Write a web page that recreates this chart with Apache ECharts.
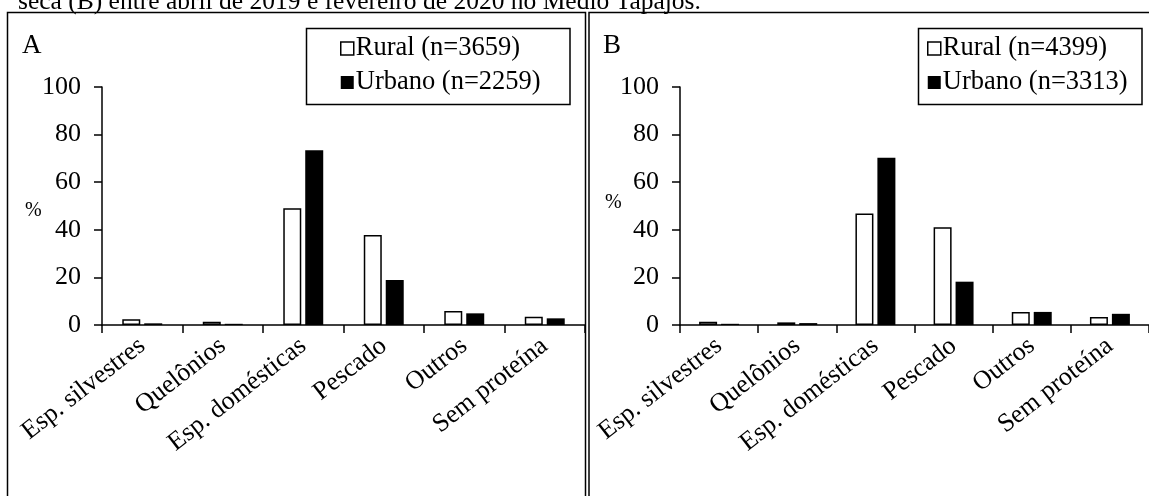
<!DOCTYPE html>
<html>
<head>
<meta charset="utf-8">
<script src="https://cdn.jsdelivr.net/npm/echarts@6/dist/echarts.min.js"></script>
<style>
html, body { margin: 0; padding: 0; background: #fff; }
#chart { width: 1149px; height: 496px; }
</style>
</head>
<body>
<div id="chart"></div>
<script>
const categories = ['Esp. silvestres', 'Quelônios', 'Esp. domésticas', 'Pescado', 'Outros', 'Sem proteína'];
const yTicks = [0, 20, 40, 60, 80, 100];
const ruralA = [2.4, 1.4, 49.1, 37.8, 5.9, 3.5];
const urbanoA = [0.7, 0.5, 73.4, 18.9, 4.9, 2.8];
const ruralB = [1.4, 1.1, 46.9, 41.1, 5.5, 3.4];
const urbanoB = [0.5, 0.8, 70.3, 18.2, 5.5, 4.7];
const legendA = ['Rural (n=3659)', 'Urbano (n=2259)'];
const legendB = ['Rural (n=4399)', 'Urbano (n=3313)'];
const panelNames = ['A', 'B'];
const caption = 'seca (B) entre abril de 2019 e fevereiro de 2020 no Médio Tapajós.';

const FONT = 'Liberation Serif';
const ruralStyle = { color: '#fff', borderColor: '#000', borderWidth: 1.5 };
const urbanoStyle = { color: '#000' };

var myChart = echarts.init(document.getElementById('chart'));

function xAxisFor(idx) {
    return {
        type: 'category',
        gridIndex: idx,
        data: categories,
        axisLine: { lineStyle: { color: '#000', width: 1.5 } },
        axisTick: { show: true, length: 8, alignWithLabel: false, lineStyle: { color: '#000', width: 1.5 } },
        axisLabel: { interval: 0, rotate: 38, margin: 18, color: '#000', fontFamily: FONT, fontSize: 26 }
    };
}

function yAxisFor(idx) {
    return {
        type: 'value',
        gridIndex: idx,
        min: yTicks[0],
        max: yTicks[yTicks.length - 1],
        interval: yTicks[1] - yTicks[0],
        axisLine: { show: true, lineStyle: { color: '#000', width: 1.5 } },
        axisTick: { show: true, length: 8, lineStyle: { color: '#000', width: 1.5 } },
        splitLine: { show: false },
        axisLabel: { margin: 21, color: '#000', fontFamily: FONT, fontSize: 26 }
    };
}

function barSeries(name, data, idx, style) {
    return {
        name: name,
        type: 'bar',
        xAxisIndex: idx,
        yAxisIndex: idx,
        data: data,
        barWidth: 18,
        barGap: '22%',
        itemStyle: style,
        silent: true
    };
}

function legendFor(names, left) {
    return {
        orient: 'vertical',
        left: left,
        top: 35,
        padding: 0,
        itemWidth: 13,
        itemHeight: 13,
        itemGap: 7,
        selectedMode: false,
        icon: 'rect',
        textStyle: { color: '#000', fontFamily: FONT, fontSize: 26.5, lineHeight: 26, padding: [0, 0, 0, -3] },
        data: [
            { name: names[0], itemStyle: ruralStyle },
            { name: names[1], itemStyle: urbanoStyle }
        ]
    };
}

let option = {
    animation: false,
    backgroundColor: '#fff',
    grid: [
        { left: 102, top: 87, width: 483, height: 238 },
        { left: 680, top: 87, width: 480, height: 238 }
    ],
    xAxis: [xAxisFor(0), xAxisFor(1)],
    yAxis: [yAxisFor(0), yAxisFor(1)],
    legend: [legendFor(legendA, 340), legendFor(legendB, 927)],
    series: [
        barSeries(legendA[0], ruralA, 0, ruralStyle),
        barSeries(legendA[1], urbanoA, 0, urbanoStyle),
        barSeries(legendB[0], ruralB, 1, ruralStyle),
        barSeries(legendB[1], urbanoB, 1, urbanoStyle)
    ],
    graphic: [
        // caption line cut off at the top of the picture
        { type: 'text', left: 18, top: -11, silent: true,
          style: { text: caption, fill: '#000', font: '25.5px "Liberation Serif"' } },
        // panel frames
        { type: 'polyline', silent: true,
          shape: { points: [[7.5, 496], [7.5, 12.5], [585.5, 12.5], [585.5, 496]] },
          style: { stroke: '#000', lineWidth: 1.5, fill: null } },
        { type: 'polyline', silent: true,
          shape: { points: [[589, 496], [589, 12.5], [1149, 12.5]] },
          style: { stroke: '#000', lineWidth: 1.5, fill: null } },
        // legend frames
        { type: 'rect', silent: true, z: -1,
          shape: { x: 306.5, y: 28.5, width: 263.5, height: 76 },
          style: { stroke: '#000', lineWidth: 1.5, fill: '#fff' } },
        { type: 'rect', silent: true, z: -1,
          shape: { x: 918.5, y: 28.5, width: 223.5, height: 76 },
          style: { stroke: '#000', lineWidth: 1.5, fill: '#fff' } },
        // panel letters
        { type: 'text', left: 22, top: 32, silent: true,
          style: { text: panelNames[0], fill: '#000', font: '27px "Liberation Serif"' } },
        { type: 'text', left: 603, top: 32, silent: true,
          style: { text: panelNames[1], fill: '#000', font: '27px "Liberation Serif"' } },
        // y axis unit
        { type: 'text', left: 25, top: 201, silent: true,
          style: { text: '%', fill: '#000', font: '20px "Liberation Serif"' } },
        { type: 'text', left: 605, top: 193, silent: true,
          style: { text: '%', fill: '#000', font: '20px "Liberation Serif"' } }
    ]
};
myChart.setOption(option);
</script>
</body>
</html>
